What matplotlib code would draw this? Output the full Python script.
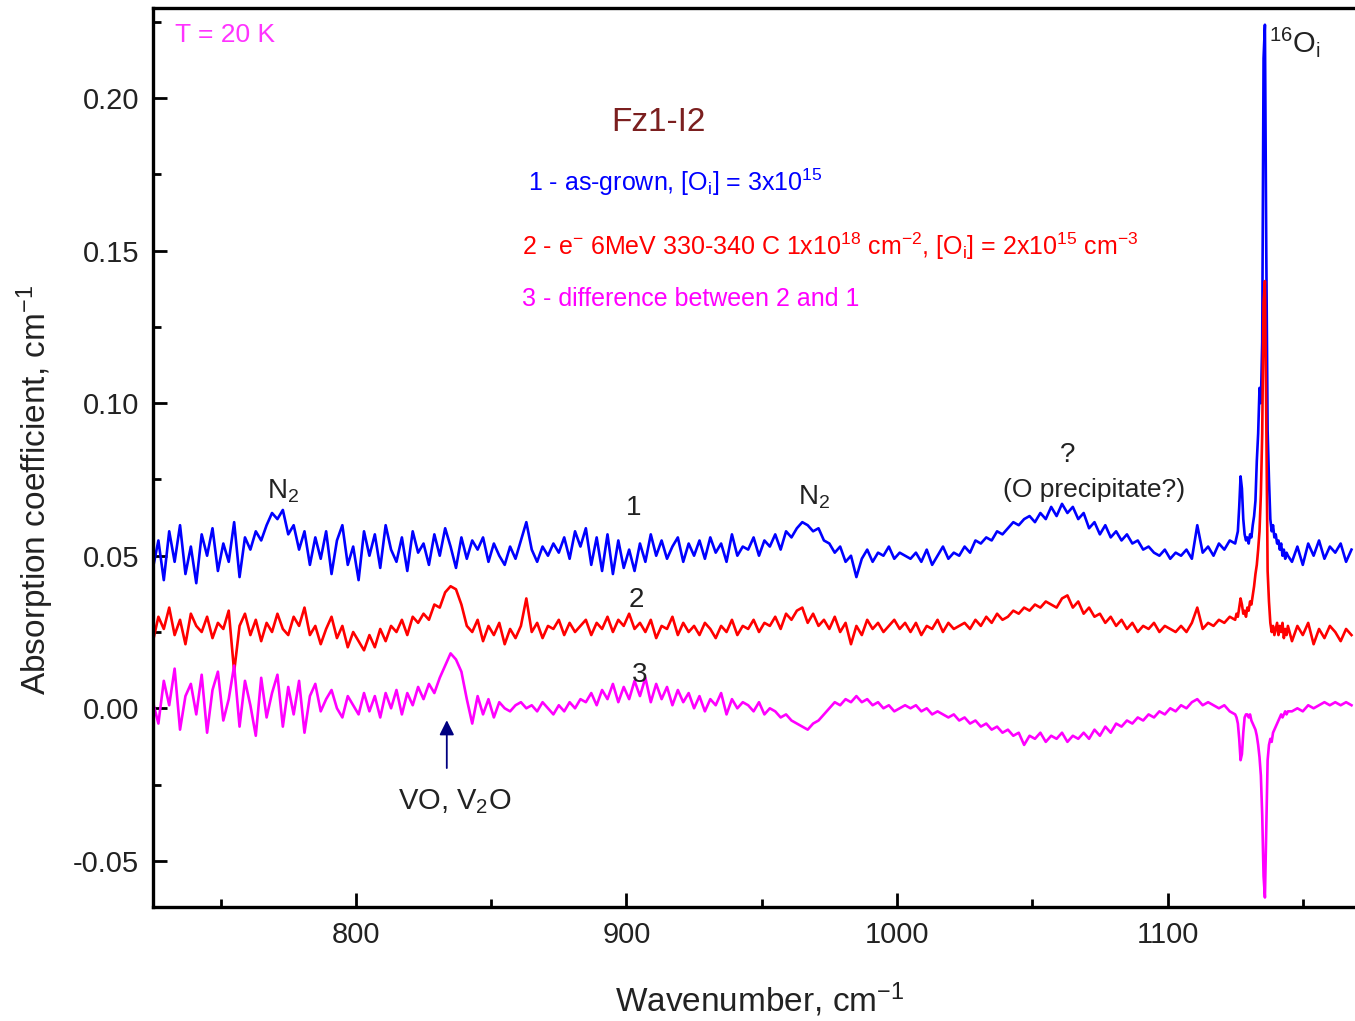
import numpy as np
import matplotlib
matplotlib.use("Agg")
import matplotlib.pyplot as plt
from matplotlib.ticker import MultipleLocator, FormatStrFormatter

plt.rcParams['font.family'] = ['Liberation Sans', 'DejaVu Sans']
plt.rcParams['mathtext.fontset'] = 'custom'
plt.rcParams['mathtext.rm'] = 'Liberation Sans'
plt.rcParams['mathtext.it'] = 'Liberation Sans'

# wavenumber grid (cm^-1): coarse, fine around the 16O_i line, coarse tail
wn = np.r_[np.arange(725, 1124, 2), np.arange(1125, 1145, 0.5), np.arange(1146, 1169, 2)]

# absorption values in units of 1e-3 cm^-1
# 1 - as-grown
as_grown = [
    46, 55, 42, 58, 48, 60, 44, 53, 41, 57,
    50, 59, 45, 54, 48, 61, 43, 56, 52, 58,
    55, 60, 64, 62, 65, 57, 60, 52, 58, 47,
    56, 49, 58, 44, 55, 60, 47, 53, 42, 58,
    50, 57, 46, 60, 52, 48, 56, 45, 58, 51,
    54, 47, 57, 50, 59, 53, 46, 56, 49, 55,
    52, 56, 48, 54, 50, 47, 53, 49, 55, 61,
    52, 48, 53, 50, 54, 51, 56, 49, 58, 53,
    59, 47, 56, 45, 57, 44, 55, 46, 52, 45,
    54, 48, 57, 50, 55, 49, 53, 56, 48, 54,
    50, 55, 49, 56, 51, 54, 48, 57, 50, 53,
    52, 56, 50, 55, 53, 57, 52, 58, 56, 59,
    61, 60, 58, 59, 55, 54, 51, 53, 48, 50,
    43, 49, 52, 48, 51, 50, 53, 49, 51, 50,
    49, 51, 48, 52, 47, 50, 53, 49, 51, 50,
    53, 51, 55, 54, 56, 55, 58, 57, 59, 61,
    60, 62, 63, 61, 64, 62, 66, 63, 67, 64,
    66, 62, 64, 59, 61, 57, 60, 56, 58, 55,
    57, 54, 55, 52, 53, 51, 50, 52, 49, 51,
    50, 52, 49, 60, 51, 53, 50, 54, 52, 55,
    # fine 1125-1144.5
    54, 56, 58, 66, 76, 72, 62, 57, 55, 56,
    54, 57, 56, 60, 63, 68, 81, 90, 105, 100,
    120, 213, 224, 150, 91, 75, 62, 58, 60, 56,
    57, 54, 55, 52, 54, 50, 52, 49, 51, 50,
    # tail 1146-1168
    48, 53, 47, 54, 50, 55, 49, 53, 51, 54, 48, 52,
]

# 2 - electron irradiated
irradiated = [
    22, 30, 26, 33, 24, 29, 21, 31, 27, 25,
    30, 23, 28, 26, 32, 12, 27, 31, 24, 29,
    22, 28, 25, 31, 26, 24, 30, 27, 33, 24,
    27, 21, 26, 30, 23, 27, 20, 25, 22, 19,
    24, 20, 26, 22, 27, 25, 29, 24, 30, 28,
    31, 29, 34, 33, 38, 40, 39, 34, 27, 25,
    29, 22, 27, 24, 28, 21, 26, 23, 27, 36,
    25, 28, 23, 27, 26, 29, 24, 28, 25, 27,
    29, 24, 28, 26, 30, 25, 29, 27, 31, 26,
    28, 25, 29, 23, 27, 26, 30, 24, 28, 25,
    27, 24, 28, 26, 23, 27, 25, 29, 24, 27,
    26, 29, 25, 28, 27, 30, 26, 31, 29, 32,
    33, 28, 31, 27, 29, 26, 30, 25, 28, 21,
    27, 24, 29, 26, 28, 25, 27, 29, 26, 28,
    25, 28, 24, 27, 26, 29, 25, 28, 26, 27,
    28, 26, 29, 27, 30, 28, 31, 29, 30, 32,
    31, 33, 32, 34, 33, 35, 34, 33, 36, 37,
    33, 35, 31, 33, 30, 31, 28, 30, 27, 29,
    26, 28, 25, 27, 26, 28, 25, 27, 26, 25,
    27, 25, 28, 33, 26, 28, 27, 29, 28, 30,
    29, 31, 30, 33, 36, 34, 31, 32, 30, 33,
    32, 35, 34, 37, 40, 44, 47, 52, 58, 70,
    90, 133, 140, 95, 45, 35, 28, 25, 27, 24,
    26, 28, 24, 27, 25, 28, 23, 26, 24, 27,
    22, 27, 24, 28, 21, 26, 23, 27, 25, 22, 26, 24,
]

# 3 - difference between 2 and 1
difference = [
    2, -5, 9, 1, 13, -7, 4, 8, -2, 11,
    -8, 6, 12, -4, 3, 14, -6, 9, 1, -9,
    10, -3, 5, 11, -6, 7, -2, 9, -8, 4,
    8, -1, 3, 6, 0, -3, 4, 1, -2, 5,
    -1, 4, -3, 5, 0, 6, -2, 5, 1, 7,
    3, 8, 5, 10, 14, 18, 16, 12, 3, -5,
    4, -2, 3, -3, 2, 0, -1, 1, 2, 0,
    1, -1, 2, 0, -2, 1, -1, 2, 0, 3,
    2, 5, 1, 6, 3, 8, 2, 7, 3, 9,
    4, 10, 2, 8, 3, 7, 1, 6, 2, 5,
    0, 4, -1, 3, 1, 5, -2, 3, 0, 2,
    1, -1, 2, -2, 0, -1, -3, -2, -4, -5,
    -6, -7, -5, -4, -2, 0, 2, 1, 3, 2,
    4, 2, 3, 1, 2, 0, 1, -1, 0, 1,
    0, 1, -1, 0, -2, -1, -2, -3, -2, -4,
    -3, -5, -4, -6, -5, -7, -6, -8, -7, -9,
    -8, -12, -9, -10, -8, -11, -9, -10, -8, -11,
    -9, -10, -8, -10, -7, -9, -6, -8, -5, -6,
    -4, -5, -3, -4, -2, -3, -1, -2, 0, -1,
    1, 0, 2, 3, 1, 2, 1, 0, 1, -1,
    -2, -3, -5, -10, -17, -15, -8, -3, -2, -2,
    -3, -2, -4, -5, -6, -7, -9, -12, -16, -22,
    -35, -55, -62, -40, -17, -12, -10, -11, -8, -7,
    -6, -5, -4, -3, -2, -3, -2, -1, -2, -1,
    -1, 0, -1, 1, 0, 1, 2, 1, 2, 1, 2, 1,
]

fig = plt.figure(figsize=(13.55, 10.21), dpi=100)
ax = fig.add_axes([0.1129, 0.1117, 0.8905, 0.8805])

ax.plot(wn, np.array(as_grown) / 1000, color='#0000ff', lw=1.9)
ax.plot(wn, np.array(irradiated) / 1000, color='#ff0000', lw=1.9)
ax.plot(wn, np.array(difference) / 1000, color='#ff00ff', lw=1.9)

ax.set_xlim(725, 1171)
ax.set_ylim(-0.0651, 0.2295)

ax.xaxis.set_major_locator(MultipleLocator(100))
ax.xaxis.set_minor_locator(MultipleLocator(50))
ax.yaxis.set_major_locator(MultipleLocator(0.05))
ax.yaxis.set_minor_locator(MultipleLocator(0.025))
ax.yaxis.set_major_formatter(FormatStrFormatter('%.2f'))
ax.tick_params(which='both', direction='in', top=False, right=False,
               labelsize=21, labelcolor='#222222', width=2)
ax.tick_params(which='major', length=10, pad=10)
ax.tick_params(which='minor', length=6)
for side in ['left', 'bottom', 'top']:
    ax.spines[side].set_linewidth(2.4)
ax.spines['right'].set_visible(False)

fig.text(0.561, 0.021, 'Wavenumber, cm$^{-1}$', fontsize=24, color='#222222',
         ha='center', va='center')
fig.text(0.026, 0.52, 'Absorption coefficient, cm$^{-1}$', fontsize=24, color='#222222',
         ha='center', va='center', rotation=90)

ax.text(733, 0.2207, 'T = 20 K', color='#ff33ff', fontsize=19, va='center')
ax.text(912, 0.192, 'Fz1-I2', color='#7b1f1f', fontsize=24, ha='center', va='center')
ax.text(863.5, 0.1725, '1 - as-grown, [O$_i$] = 3x10$^{15}$', color='#0000ff', fontsize=18, va='center')
ax.text(861.5, 0.1515, '2 - e$^{-}$ 6MeV 330-340 C 1x10$^{18}$ cm$^{-2}$, [O$_i$] = 2x10$^{15}$ cm$^{-3}$',
        color='#ff0000', fontsize=18, va='center')
ax.text(861.5, 0.134, '3 - difference between 2 and 1', color='#ff00ff', fontsize=18, va='center')

ax.text(773, 0.071, 'N$_2$', fontsize=20, ha='center', va='center', color='#222222')
ax.text(969.5, 0.069, 'N$_2$', fontsize=20, ha='center', va='center', color='#222222')
ax.text(902.5, 0.0656, '1', fontsize=20, ha='center', va='center', color='#222222')
ax.text(903.5, 0.0354, '2', fontsize=20, ha='center', va='center', color='#222222')
ax.text(905, 0.0108, '3', fontsize=20, ha='center', va='center', color='#222222')
ax.text(1063, 0.083, '?', fontsize=20, ha='center', va='center', color='#222222')
ax.text(1073, 0.0715, '(O precipitate?)', fontsize=19, ha='center', va='center', color='#222222')
ax.text(1137.5, 0.2185, '$^{16}$O$_i$', fontsize=21, ha='left', va='center', color='#222222')
ax.text(836.5, -0.0305, 'VO, V$_2$O', fontsize=21, ha='center', va='center', color='#222222')
ax.annotate('', xy=(833.6, -0.003), xytext=(833.6, -0.0205),
            arrowprops=dict(arrowstyle='-|>', color='#000080', lw=1.3, mutation_scale=22))

fig.savefig('out.png', dpi=100)
